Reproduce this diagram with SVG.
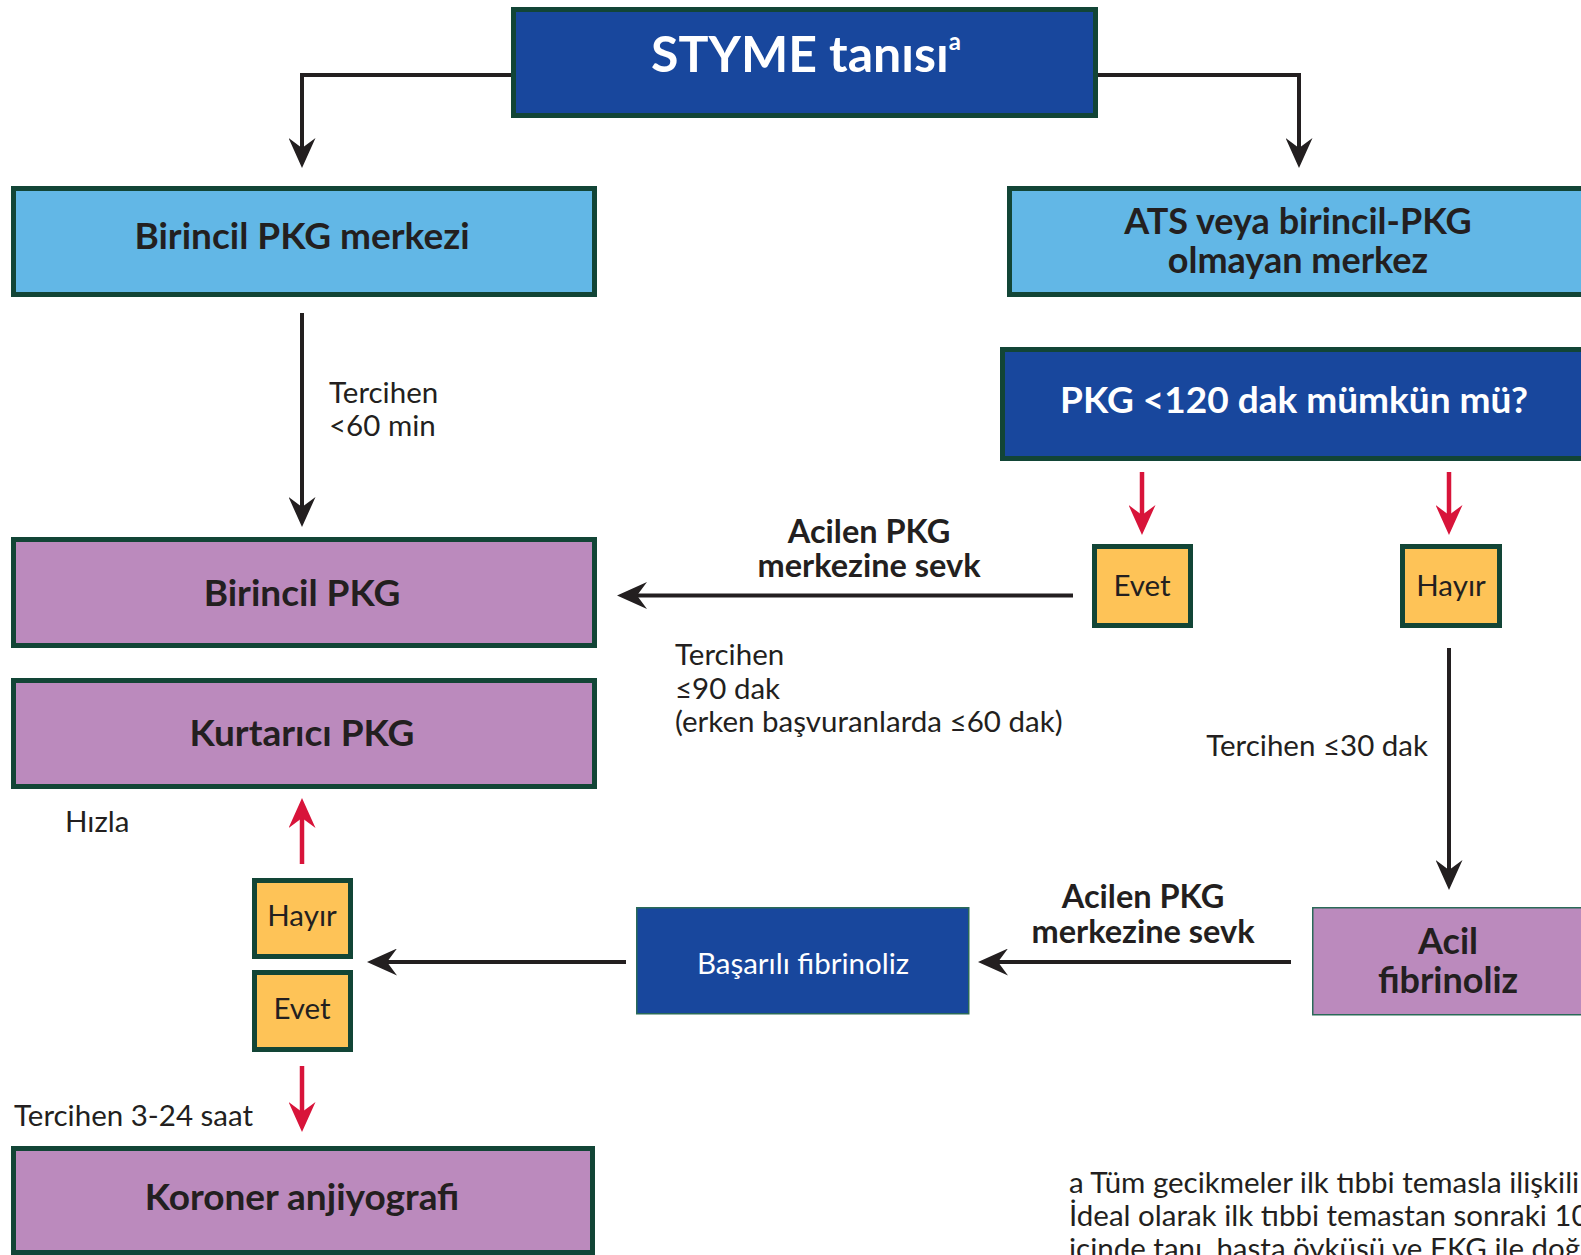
<svg xmlns="http://www.w3.org/2000/svg" width="1581" height="1255" viewBox="0 0 1581 1255">
<defs>
<style>
.bx{stroke:#124536;stroke-width:5}
.thin{stroke:#2a6a58;stroke-width:1.5}
.dk{fill:#18479d}
.lb{fill:#62b7e6}
.pu{fill:#bb8abd}
.ye{fill:#fec357}
.ln{fill:none;stroke:#231f20;stroke-width:4}
.rd{fill:none;stroke:#d8143a;stroke-width:4.5}
text{font-family:Lato,"Liberation Sans",sans-serif;fill:#231f20}
.b{font-weight:700}
.w{fill:#ffffff}
.c{text-anchor:middle}
.lbl{font-size:29.5px}
.edge{font-size:32.5px;font-weight:700}
.bl{font-size:37px;font-weight:700}
.bl2{font-size:36px;font-weight:700}
</style>
<marker id="ah" viewBox="0 0 30 27" markerWidth="30" markerHeight="27" refX="10" refY="13.5" orient="auto" markerUnits="userSpaceOnUse">
<path d="M0,0 L30,13.5 L0,27 L10,13.5 Z" fill="#231f20"/>
</marker>
<marker id="ahr" viewBox="0 0 30 27" markerWidth="30" markerHeight="27" refX="10" refY="13.5" orient="auto" markerUnits="userSpaceOnUse">
<path d="M0,0 L30,13.5 L0,27 L10,13.5 Z" fill="#d8143a"/>
</marker>
</defs>
<rect width="1581" height="1255" fill="#ffffff"/>

<g id="connectors">
<path class="ln" d="M511,75 H302 V148" marker-end="url(#ah)"/>
<path class="ln" d="M1098,75 H1299 V148" marker-end="url(#ah)"/>
<path class="ln" d="M302,313 V507" marker-end="url(#ah)"/>
<path class="ln" d="M1073,595.5 H637" marker-end="url(#ah)"/>
<path class="rd" d="M1142,472 V515" marker-end="url(#ahr)"/>
<path class="rd" d="M1449,472 V515" marker-end="url(#ahr)"/>
<path class="ln" d="M1449,648 V870" marker-end="url(#ah)"/>
<path class="ln" d="M1291,962 H998" marker-end="url(#ah)"/>
<path class="ln" d="M626,962 H387" marker-end="url(#ah)"/>
<path class="rd" d="M302,864 V818" marker-end="url(#ahr)"/>
<path class="rd" d="M302,1066 V1112" marker-end="url(#ahr)"/>
<text class="lbl" x="329" y="403">Tercihen</text>
<text class="lbl" x="329" y="436">&lt;60 min</text>
<text class="edge c" x="869" y="543">Acilen PKG</text>
<text class="edge c" x="869" y="577">merkezine sevk</text>
<text class="lbl" x="675" y="665">Tercihen</text>
<text class="lbl" x="675" y="699">≤90 dak</text>
<text class="lbl" x="675" y="732">(erken başvuranlarda ≤60 dak)</text>
<text class="lbl" x="1428" y="756" text-anchor="end">Tercihen ≤30 dak</text>
<text class="edge c" x="1143" y="908">Acilen PKG</text>
<text class="edge c" x="1143" y="943">merkezine sevk</text>
<text class="lbl" x="65" y="832">Hızla</text>
<text class="lbl" x="14" y="1126">Tercihen 3-24 saat</text>
</g>

<g id="styme">
<rect class="bx dk" x="513.5" y="9.5" width="582" height="106"/>
<text class="b w c" x="806" y="72" font-size="50">STYME tanısı<tspan font-size="24" dy="-22">a</tspan></text>
</g>

<g id="birincil-merkez">
<rect class="bx lb" x="13.5" y="188.5" width="581" height="106"/>
<text class="bl c" x="302" y="249">Birincil PKG merkezi</text>
</g>

<g id="ats">
<rect class="bx lb" x="1009.5" y="188.5" width="580" height="106"/>
<text class="bl2 c" x="1298" y="234">ATS veya birincil-PKG</text>
<text class="bl2 c" x="1298" y="273">olmayan merkez</text>
</g>

<g id="pkg120">
<rect class="bx dk" x="1002.5" y="349.5" width="590" height="109"/>
<text class="bl w c" x="1294" y="413">PKG &lt;120 dak mümkün mü?</text>
</g>

<g id="evet-r">
<rect class="bx ye" x="1094.5" y="546.5" width="96" height="79"/>
<text class="lbl c" x="1142" y="596">Evet</text>
</g>

<g id="hayir-r">
<rect class="bx ye" x="1402.5" y="546.5" width="97" height="79"/>
<text class="lbl c" x="1451" y="596">Hayır</text>
</g>

<g id="birincil-pkg">
<rect class="bx pu" x="13.5" y="539.5" width="581" height="106"/>
<text class="bl c" x="302" y="606">Birincil PKG</text>
</g>

<g id="kurtarici">
<rect class="bx pu" x="13.5" y="680.5" width="581" height="106"/>
<text class="bl c" x="302" y="746">Kurtarıcı PKG</text>
</g>

<g id="acil-fib">
<rect class="thin pu" x="1312.75" y="907.75" width="290" height="107"/>
<text class="bl2 c" x="1448" y="954">Acil</text>
<text class="bl2 c" x="1448" y="993">fibrinoliz</text>
</g>

<g id="basarili">
<rect class="thin dk" x="636.75" y="907.75" width="332" height="106"/>
<text class="lbl w c" x="803" y="974">Başarılı fibrinoliz</text>
</g>

<g id="hayir-l">
<rect class="bx ye" x="254.5" y="880.5" width="96" height="76"/>
<text class="lbl c" x="302" y="926">Hayır</text>
</g>

<g id="evet-l">
<rect class="bx ye" x="254.5" y="972.5" width="96" height="77"/>
<text class="lbl c" x="302" y="1019">Evet</text>
</g>

<g id="koroner">
<rect class="bx pu" x="13.5" y="1148.5" width="579" height="104"/>
<text class="bl c" x="302" y="1210">Koroner anjiyografi</text>
</g>

<g id="footnote">
<text class="lbl" x="1069" y="1193">a Tüm gecikmeler ilk tıbbi temasla ilişkili</text>
<text class="lbl" x="1069" y="1226">İdeal olarak ilk tıbbi temastan sonraki 10</text>
<text class="lbl" x="1069" y="1259">içinde tanı, hasta öyküsü ve EKG ile doğ</text>
</g>
</svg>
